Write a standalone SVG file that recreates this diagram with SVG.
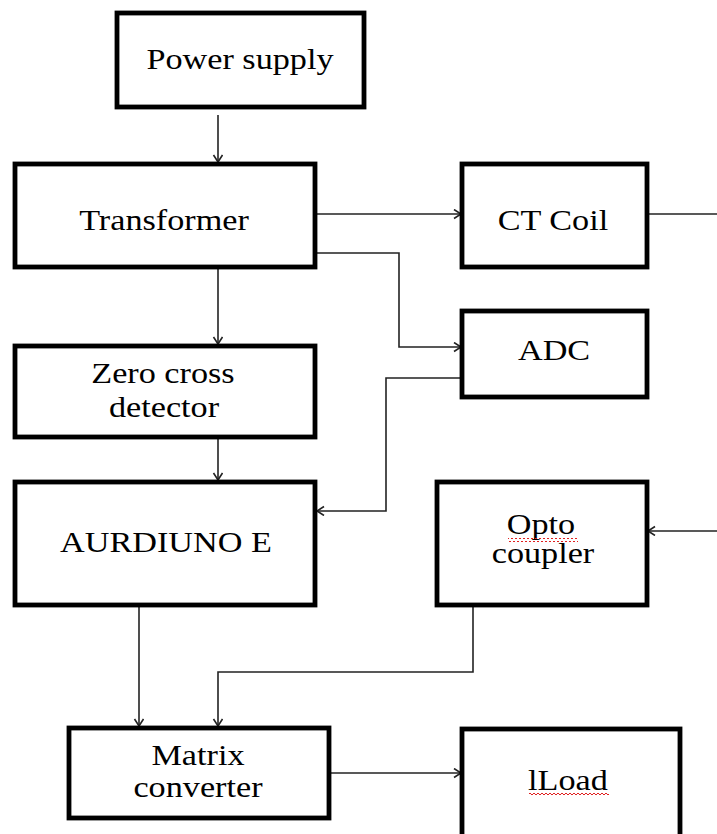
<svg xmlns="http://www.w3.org/2000/svg" width="717" height="834" viewBox="0 0 717 834">
<style>
.box{fill:#fff;stroke:#000;stroke-width:4.8}
.t{font-family:"Liberation Serif","Times New Roman",serif;font-size:28.5px;fill:#000;text-anchor:middle}
.c{fill:none;stroke:#222;stroke-width:1.6}
.a{marker-end:url(#ah)}
</style>
<defs>
<marker id="ah" markerUnits="userSpaceOnUse" markerWidth="12" markerHeight="12" refX="8" refY="5" orient="auto">
<path d="M1,0.5 L8,5 L1,9.5" fill="none" stroke="#222" stroke-width="1.6"/>
</marker>
<pattern id="sq" patternUnits="userSpaceOnUse" width="4" height="4">
<path d="M0,3 L2,1 L4,3" fill="none" stroke="#e02020" stroke-width="1"/>
</pattern>
</defs>
<rect width="717" height="834" fill="#fff"/>
<g id="connectors">
<path class="c a" d="M218,115 V162"/>
<path class="c a" d="M315,214 H461"/>
<path class="c" d="M647,214 H717"/>
<path class="c a" d="M315,253 H399 V347 H461"/>
<path class="c a" d="M462,378 H386 V511 H317"/>
<path class="c a" d="M218,267 V344"/>
<path class="c a" d="M218,437 V480"/>
<path class="c a" d="M717,531 H648"/>
<path class="c a" d="M139,605 V726"/>
<path class="c a" d="M473,605 V672 H218 V726"/>
<path class="c a" d="M329,773 H461"/>
</g>
<g id="power-supply">
<rect class="box" x="117" y="13" width="247" height="94"/>
<text class="t" transform="scale(1.2,1)" x="200" y="69">Power supply</text>
</g>
<g id="transformer">
<rect class="box" x="15" y="164" width="300" height="103"/>
<text class="t" transform="scale(1.2,1)" x="136.7" y="230">Transformer</text>
</g>
<g id="ct-coil">
<rect class="box" x="462" y="164" width="185" height="103"/>
<text class="t" transform="scale(1.2,1)" x="460.8" y="230">CT Coil</text>
</g>
<g id="adc">
<rect class="box" x="462" y="311" width="185" height="86"/>
<text class="t" transform="scale(1.2,1)" x="461.7" y="360">ADC</text>
</g>
<g id="zero-cross-detector">
<rect class="box" x="15" y="346" width="300" height="91"/>
<text class="t" transform="scale(1.2,1)" x="135.8" y="383">Zero cross</text>
<text class="t" transform="scale(1.2,1)" x="136.7" y="417">detector</text>
</g>
<g id="aurdiuno">
<rect class="box" x="15" y="482" width="300" height="123"/>
<text class="t" transform="scale(1.2,1)" x="138.3" y="552">AURDIUNO E</text>
</g>
<g id="opto-coupler">
<rect class="box" x="437" y="482" width="210" height="123"/>
<text class="t" transform="scale(1.2,1)" x="450.8" y="534">Opto</text>
<rect x="508" y="538" width="70" height="4" fill="url(#sq)"/>
<text class="t" transform="scale(1.2,1)" x="452.5" y="563">coupler</text>
</g>
<g id="matrix-converter">
<rect class="box" x="69" y="728" width="260" height="90"/>
<text class="t" transform="scale(1.2,1)" x="165" y="765">Matrix</text>
<text class="t" transform="scale(1.2,1)" x="165" y="797">converter</text>
</g>
<g id="load">
<rect class="box" x="462" y="729" width="218" height="120"/>
<text class="t" transform="scale(1.2,1)" x="473.3" y="790">lLoad</text>
<rect x="529" y="793" width="80" height="4" fill="url(#sq)"/>
</g>
</svg>
